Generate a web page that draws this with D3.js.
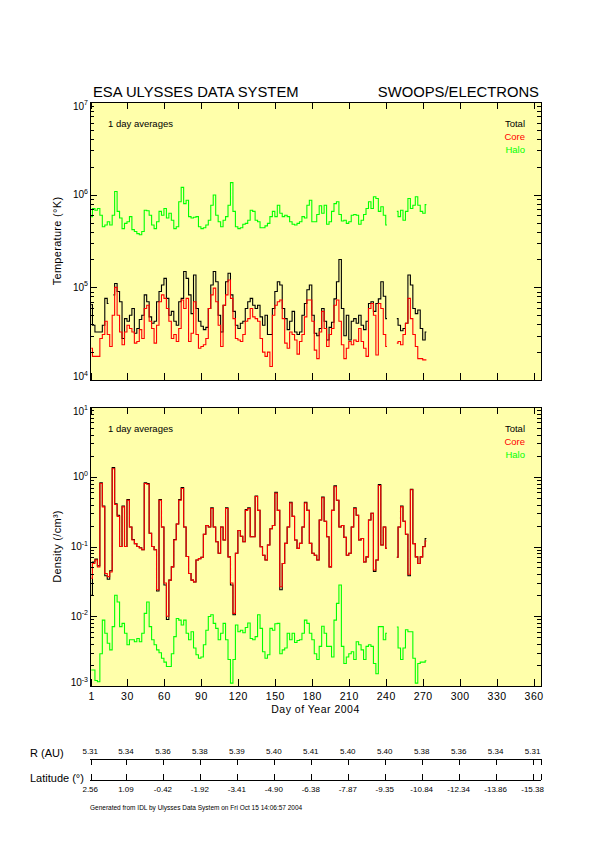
<!DOCTYPE html>
<html>
<head>
<meta charset="utf-8">
<script src="https://cdn.jsdelivr.net/npm/d3@7"></script>
<style>
body { margin: 0; background: #fff; }
svg text { font-family: "Liberation Sans", Arial, Helvetica, sans-serif; }
</style>
</head>
<body>
<svg id="chart" width="595" height="842"></svg>
<script>
// day of year (1 day averages, read every 2nd day off the plot)
var days = [
	1,3,5,7,9,11,13,15,17,19,
	21,23,25,27,29,31,33,35,37,39,
	41,43,45,47,49,51,53,55,57,59,
	61,63,65,67,69,71,73,75,77,79,
	81,83,85,87,89,91,93,95,97,99,
	101,103,105,107,109,111,113,115,117,119,
	121,123,125,127,129,131,133,135,137,139,
	141,143,145,147,149,151,153,155,157,159,
	161,163,165,167,169,171,173,175,177,179,
	181,183,185,187,189,191,193,195,197,199,
	201,203,205,207,209,211,213,215,217,219,
	221,223,225,227,229,231,233,235,237,239,
	241,243,245,247,249,251,253,255,257,259,
	261,263,265,267,269,271,273
];

// electron temperature (K)
var tempTotal = [
	6.5e4,3.9e4,3.3e4,3.3e4,3.3e4,3.9e4,7.6e4,6.7e4,null,8.3e4,
	1.1e5,9.0e4,7.0e4,2.8e4,4.6e4,4.3e4,5.0e4,5.9e4,3.2e4,3.6e4,
	4.5e4,5.0e4,8.3e4,7.0e4,4.8e4,4.1e4,4.3e4,7.0e4,9.0e4,1.06e5,
	1.25e5,7.6e4,5.0e4,5.5e4,4.3e4,3.9e4,7.0e4,7.6e4,1.48e5,1.25e5,
	8.3e4,5.2e4,1.36e5,5.9e4,4.3e4,3.8e4,3.5e4,3.7e4,5.9e4,1.06e5,
	1.48e5,1.15e5,5.0e4,3.3e4,6.4e4,1.15e5,1.42e5,8.3e4,5.5e4,3.9e4,
	3.6e4,4.1e4,4.3e4,5.9e4,7.0e4,7.6e4,6.4e4,5.9e4,6.4e4,4.8e4,
	3.9e4,5.0e4,3.1e4,3.1e4,5.9e4,9.0e4,1.15e5,1.06e5,5.9e4,4.6e4,
	3.5e4,4.3e4,5.5e4,3.3e4,3.1e4,3.3e4,5.0e4,6.7e4,9.4e4,1.06e5,
	5.0e4,3.2e4,3.0e4,3.6e4,5.9e4,4.3e4,2.7e4,3.7e4,4.2e4,7.5e4,
	1.15e5,2.0e5,5.9e4,3.0e4,5.0e4,2.7e4,4.3e4,4.6e4,4.1e4,5.0e4,
	3.9e4,3.5e4,4.3e4,6.7e4,7.0e4,5.5e4,6.7e4,7.5e4,1.15e5,8.0e4,
	4.6e4,null,null,null,4.6e4,3.9e4,3.4e4,3.6e4,4.1e4,1.36e5,
	1.06e5,5.9e4,5.2e4,5.7e4,3.6e4,2.7e4,3.3e4
];
var tempCore = [
	2.2e4,1.8e4,1.8e4,1.8e4,2.8e4,3.1e4,4.3e4,3.1e4,2.3e4,5.0e4,
	1.0e5,5.0e4,3.3e4,2.4e4,3.3e4,3.9e4,3.6e4,3.3e4,2.5e4,2.6e4,
	3.5e4,2.8e4,5.9e4,6.4e4,4.3e4,3.6e4,2.5e4,3.9e4,7.0e4,8.3e4,
	7.6e4,5.9e4,4.3e4,2.8e4,3.1e4,2.6e4,3.6e4,7.3e4,5.9e4,7.6e4,
	2.6e4,3.2e4,7.0e4,3.1e4,2.2e4,2.3e4,2.4e4,2.8e4,5.9e4,8.3e4,
	9.8e4,7.0e4,3.9e4,2.3e4,6.4e4,8.3e4,1.2e5,7.6e4,4.6e4,2.8e4,
	2.7e4,2.6e4,3.1e4,4.3e4,4.6e4,5.9e4,4.8e4,4.6e4,4.3e4,2.8e4,
	2.0e4,1.8e4,2.0e4,1.4e4,5.0e4,6.4e4,7.0e4,7.3e4,4.6e4,2.5e4,
	2.2e4,3.3e4,3.1e4,2.7e4,1.9e4,2.6e4,3.1e4,4.8e4,7.3e4,7.3e4,
	4.3e4,2.1e4,1.7e4,3.3e4,5.5e4,3.6e4,2.3e4,3.1e4,3.6e4,6.4e4,
	7.3e4,4.3e4,2.4e4,1.7e4,2.2e4,2.6e4,2.4e4,2.7e4,2.6e4,3.6e4,
	2.6e4,2.2e4,1.8e4,5.9e4,6.7e4,5.0e4,1.86e4,6.7e4,5.9e4,3.1e4,
	2.3e4,null,null,null,2.5e4,2.6e4,2.4e4,3.1e4,4.1e4,7.6e4,
	4.6e4,3.1e4,2.3e4,1.7e4,1.7e4,1.65e4,1.65e4
];
var tempHalo = [
	5.8e5,7.1e5,6.8e5,7.1e5,6.0e5,4.5e5,4.7e5,5.1e5,4.7e5,6.0e5,
	1.08e6,6.6e5,5.6e5,4.3e5,4.9e5,5.1e5,5.8e5,4.2e5,4.0e5,3.8e5,
	3.7e5,4.0e5,6.8e5,6.7e5,6.0e5,4.7e5,4.3e5,5.1e5,6.6e5,6.0e5,
	7.1e5,5.6e5,6.3e5,5.3e5,4.3e5,4.5e5,8.4e5,1.2e6,8.0e5,8.7e5,
	5.8e5,5.6e5,5.7e5,5.8e5,4.5e5,4.3e5,4.4e5,4.7e5,5.3e5,7.7e5,
	9.9e5,6.0e5,5.1e5,4.5e5,5.3e5,5.8e5,7.7e5,1.35e6,6.6e5,4.5e5,
	4.3e5,4.4e5,4.8e5,4.9e5,5.3e5,6.8e5,6.6e5,5.3e5,5.1e5,4.4e5,
	4.4e5,4.6e5,4.9e5,5.8e5,6.6e5,5.8e5,7.7e5,6.3e5,5.8e5,6.0e5,
	5.8e5,5.1e5,4.8e5,4.7e5,4.9e5,5.1e5,5.8e5,5.6e5,7.7e5,8.7e5,
	5.1e5,5.1e5,6.1e5,7.6e5,6.3e5,7.7e5,4.8e5,5.1e5,6.6e5,8.0e5,
	8.4e5,6.1e5,5.2e5,5.3e5,4.9e5,5.1e5,6.0e5,6.1e5,6.0e5,4.8e5,
	5.3e5,6.1e5,7.1e5,8.4e5,7.1e5,9.5e5,9.1e5,6.6e5,7.4e5,6.0e5,
	4.7e5,null,null,null,6.6e5,5.8e5,6.8e5,5.3e5,6.6e5,9.1e5,
	7.1e5,7.7e5,9.5e5,7.7e5,6.6e5,6.3e5,7.8e5
];

// electron density (/cm3)
var densTotal = [
	0.02,0.06,0.066,0.053,0.82,0.38,0.038,0.034,0.045,1.35,
	0.41,0.28,0.1,0.38,0.1,0.47,0.19,0.126,0.11,0.1,
	0.096,0.09,0.82,0.8,0.155,0.1,0.09,0.023,0.47,0.19,
	0.028,0.009,0.033,0.051,0.126,0.21,0.47,0.7,0.19,0.072,
	0.041,0.033,0.031,0.064,0.067,0.07,0.15,0.2,0.19,0.36,
	0.19,0.117,0.08,0.19,0.124,0.36,0.071,0.028,0.0105,0.08,
	0.17,0.14,0.117,0.34,0.36,0.138,0.138,0.53,0.33,0.099,
	0.075,0.064,0.105,0.18,0.2,0.6,0.33,0.024,0.057,0.111,
	0.19,0.43,0.27,0.124,0.094,0.111,0.19,0.43,0.33,0.111,
	0.08,0.075,0.064,0.24,0.51,0.23,0.138,0.051,0.33,0.74,
	0.46,0.19,0.2,0.135,0.075,0.08,0.19,0.36,0.28,0.124,
	0.13,0.06,0.071,0.24,0.3,0.044,0.064,0.77,0.105,0.19,
	0.094,null,null,null,0.07,0.19,0.38,0.23,0.15,0.038,
	0.66,0.11,0.071,0.057,0.071,0.1,0.13
];
var densCore = [
	0.035,0.057,0.064,0.051,0.8,0.37,0.041,0.037,0.043,1.3,
	0.4,0.27,0.1,0.37,0.1,0.46,0.19,0.124,0.11,0.1,
	0.095,0.09,0.8,0.78,0.155,0.1,0.09,0.024,0.46,0.19,
	0.03,0.01,0.033,0.051,0.124,0.21,0.46,0.68,0.19,0.072,
	0.041,0.033,0.031,0.064,0.067,0.07,0.15,0.2,0.19,0.35,
	0.19,0.117,0.08,0.19,0.124,0.35,0.071,0.03,0.011,0.08,
	0.17,0.14,0.117,0.33,0.35,0.138,0.138,0.52,0.33,0.099,
	0.075,0.064,0.105,0.18,0.2,0.58,0.33,0.0265,0.057,0.111,
	0.19,0.42,0.27,0.124,0.094,0.111,0.19,0.42,0.33,0.111,
	0.08,0.075,0.064,0.24,0.5,0.23,0.138,0.051,0.33,0.72,
	0.46,0.19,0.2,0.135,0.075,0.08,0.19,0.35,0.28,0.124,
	0.13,0.06,0.071,0.24,0.3,0.046,0.064,0.75,0.105,0.19,
	0.094,null,null,null,0.07,0.19,0.37,0.23,0.15,0.04,
	0.65,0.11,0.071,0.057,0.071,0.099,0.12
];
var densHalo = [
	0.0017,0.0017,0.0012,0.00115,0.0029,0.0088,0.0057,0.0041,0.0033,0.0071,
	0.02,0.016,0.0071,0.0079,0.0057,0.0039,0.0046,0.0046,0.0043,0.0048,
	0.0043,0.0057,0.011,0.016,0.0071,0.0046,0.0039,0.0033,0.003,0.0025,
	0.0022,0.0019,0.0019,0.0029,0.0051,0.0093,0.0088,0.0075,0.0088,0.0057,
	0.0046,0.006,0.0035,0.0028,0.0025,0.0026,0.0039,0.0063,0.0099,0.0105,
	0.0079,0.0067,0.0046,0.0057,0.0079,0.0046,0.0024,0.0011,0.0024,0.0075,
	0.006,0.0063,0.0058,0.0069,0.008,0.0048,0.0046,0.0051,0.0105,0.0067,
	0.0031,0.0025,0.0028,0.0067,0.0063,0.0078,0.0079,0.0029,0.0033,0.0035,
	0.0057,0.0046,0.0057,0.0042,0.0045,0.0046,0.0057,0.0088,0.0079,0.0057,
	0.0046,0.0029,0.0024,0.0037,0.0072,0.0057,0.0037,0.0037,0.0026,0.0088,
	0.0153,0.028,0.0037,0.0021,0.0026,0.0029,0.0031,0.0024,0.0043,0.0039,
	0.0033,0.0024,0.0037,0.0039,0.0037,0.0021,0.0015,0.0071,0.0071,0.0046,
	0.0057,null,null,null,0.007,0.0035,0.0024,0.0035,0.0064,0.006,
	0.006,0.0025,0.0011,0.0021,0.0022,0.0022,0.0023
];

var dayTicks = [1,30,60,90,120,150,180,210,240,270,300,330,360];
var tempExps = [4,5,6,7];
var densExps = [-3,-2,-1,0,1];
var seriesNames = ["Total","Core","Halo"];

// heliocentric distance and latitude under the day ticks
var rLabels = ["5.31","5.34","5.36","5.38","5.39","5.40","5.41","5.40","5.40","5.38","5.36","5.34","5.31"];
var latLabels = ["2.56","1.09","-0.42","-1.92","-3.41","-4.90","-6.38","-7.87","-9.35","-10.84","-12.34","-13.86","-15.38"];

var X_LEFT = 90, X_RIGHT = 541;
var BG = "#ffffaa";
var COLORS = ["#000000","#ff0000","#00ff00"];
var FONT_SM = 9.5;

var svg = d3.select("#chart");
var x = d3.scaleLinear().domain([0, 366]).range([X_LEFT, X_RIGHT]);

function drawPanel(id, top, bottom, y, exps, values, yTitle, showXLabels)
{
	var g = svg.append("g").attr("class", "panel-" + id);

	g.append("rect")
		.attr("x", X_LEFT).attr("y", top)
		.attr("width", X_RIGHT - X_LEFT).attr("height", bottom - top)
		.style("fill", BG);

	g.append("clipPath").attr("id", "clip-" + id)
		.append("rect")
		.attr("x", X_LEFT).attr("y", top)
		.attr("width", X_RIGHT - X_LEFT).attr("height", bottom - top);

	// histogram style, like IDL psym=10
	var line = d3.line()
		.defined(function(d) { return d[1] !== null; })
		.x(function(d) { return x(d[0]); })
		.y(function(d) { return y(d[1]); })
		.curve(d3.curveStep);

	// total first, then core, then halo on top
	values.forEach(function(vals, k)
	{
		g.append("path")
			.datum(days.map(function(d, i) { return [d, vals[i]]; }))
			.attr("d", line)
			.attr("clip-path", "url(#clip-" + id + ")")
			.style("fill", "none")
			.style("stroke", COLORS[k])
			.style("stroke-width", 1.1);
	});

	var majors = exps.map(function(e) { return Math.pow(10, e); });
	var minors = [];
	for (var i = 0; i < exps.length - 1; i++) {
		for (var m = 2; m <= 9; m++) minors.push(m * majors[i]);
	}

	[
		d3.axisLeft(y).tickValues(minors).tickSize(-4).tickFormat(""),
		d3.axisLeft(y).tickValues(majors).tickSize(-7).tickFormat("")
	].forEach(function(ax) {
		g.append("g").attr("transform", "translate(" + X_LEFT + ",0)").call(ax);
	});
	[
		d3.axisRight(y).tickValues(minors).tickSize(-4).tickFormat(""),
		d3.axisRight(y).tickValues(majors).tickSize(-7).tickFormat("")
	].forEach(function(ax) {
		g.append("g").attr("transform", "translate(" + X_RIGHT + ",0)").call(ax);
	});

	g.append("g").attr("transform", "translate(0," + top + ")")
		.call(d3.axisTop(x).tickValues(dayTicks).tickSize(-7).tickFormat(""));

	var xb = g.append("g").attr("transform", "translate(0," + bottom + ")")
		.call(d3.axisBottom(x).tickValues(dayTicks).tickSize(-7).tickPadding(7)
			.tickFormat(showXLabels ? function(d) { return d; } : ""));
	xb.attr("font-family", null).attr("font-size", null);
	xb.selectAll("text").style("font-size", "10.5px").style("letter-spacing", "0.5px").style("fill", "#000");

	g.selectAll(".domain").remove();
	g.selectAll(".tick line").style("stroke", "#000").attr("shape-rendering", "crispEdges");

	g.append("rect")
		.attr("x", X_LEFT).attr("y", top)
		.attr("width", X_RIGHT - X_LEFT).attr("height", bottom - top)
		.attr("shape-rendering", "crispEdges")
		.style("fill", "none").style("stroke", "#000").style("stroke-width", 1);

	// decade labels, 10 with superscript exponent
	g.selectAll("text.ylab").data(exps).enter().append("text")
		.attr("class", "ylab")
		.attr("x", 88)
		.attr("y", function(e, i)
		{
			var yy = y(Math.pow(10, e));
			if (i === 0) return yy;
			if (i === exps.length - 1) return yy + 7.5;
			return yy + 3.5;
		})
		.attr("text-anchor", "end")
		.style("font-size", "10px")
		.each(function(e)
		{
			var t = d3.select(this);
			t.append("tspan").text("10");
			t.append("tspan").attr("dy", -4.5).style("font-size", "7px").text(e);
		});

	g.append("text")
		.attr("transform", "translate(61," + ((top + bottom) / 2) + ") rotate(-90)")
		.attr("text-anchor", "middle")
		.style("font-size", "11px")
		.style("letter-spacing", "0.3px")
		.text(yTitle);

	g.append("text")
		.attr("x", 108).attr("y", top + 24.5)
		.style("font-size", FONT_SM + "px")
		.text("1 day averages");

	g.selectAll("text.leg").data(seriesNames).enter().append("text")
		.attr("class", "leg")
		.attr("x", 525)
		.attr("y", function(d, i) { return top + 24.5 + i * 13; })
		.attr("text-anchor", "end")
		.style("font-size", FONT_SM + "px")
		.style("fill", function(d, i) { return COLORS[i]; })
		.text(function(d) { return d; });
}

var yTemp = d3.scaleLog().domain([1e4, 1e7]).range([380, 102]);
var yDens = d3.scaleLog().domain([1e-3, 1e1]).range([686, 407]);

drawPanel("temp", 102, 380, yTemp, tempExps, [tempTotal, tempCore, tempHalo], "Temperature (\u00b0K)", false);
drawPanel("dens", 407, 686, yDens, densExps, [densTotal, densCore, densHalo], "Density (/cm\u00b3)", true);

// titles
svg.append("text").attr("x", 93).attr("y", 96.5)
	.style("font-size", "14.8px").text("ESA ULYSSES DATA SYSTEM");
svg.append("text").attr("x", 539).attr("y", 96.5).attr("text-anchor", "end")
	.style("font-size", "14.8px").text("SWOOPS/ELECTRONS");

svg.append("text").attr("x", (X_LEFT + X_RIGHT) / 2).attr("y", 713)
	.attr("text-anchor", "middle")
	.style("font-size", "10.5px").style("letter-spacing", "0.5px")
	.text("Day of Year 2004");

// R and latitude strip
var R_Y = 759, LAT_Y = 780;
var stripTicks = dayTicks.concat([366]);

svg.append("line").attr("x1", x(0)).attr("x2", x(366)).attr("y1", R_Y).attr("y2", R_Y)
	.attr("shape-rendering", "crispEdges").style("stroke", "#000");
svg.append("line").attr("x1", x(0)).attr("x2", x(366)).attr("y1", LAT_Y).attr("y2", LAT_Y)
	.attr("shape-rendering", "crispEdges").style("stroke", "#000");

svg.selectAll("line.rtick").data(stripTicks).enter().append("line")
	.attr("class", "rtick")
	.attr("x1", function(d) { return x(d); }).attr("x2", function(d) { return x(d); })
	.attr("y1", R_Y).attr("y2", R_Y + 6)
	.attr("shape-rendering", "crispEdges").style("stroke", "#000");
svg.selectAll("line.ltick").data(stripTicks).enter().append("line")
	.attr("class", "ltick")
	.attr("x1", function(d) { return x(d); }).attr("x2", function(d) { return x(d); })
	.attr("y1", LAT_Y - 6).attr("y2", LAT_Y)
	.attr("shape-rendering", "crispEdges").style("stroke", "#000");

svg.selectAll("text.rlab").data(rLabels).enter().append("text")
	.attr("class", "rlab")
	.attr("x", function(d, i) { return x(dayTicks[i]) - 1; })
	.attr("y", R_Y - 5)
	.attr("text-anchor", "middle")
	.style("font-size", "8px")
	.text(function(d) { return d; });
svg.selectAll("text.llab").data(latLabels).enter().append("text")
	.attr("class", "llab")
	.attr("x", function(d, i) { return x(dayTicks[i]) - 1; })
	.attr("y", LAT_Y + 11.5)
	.attr("text-anchor", "middle")
	.style("font-size", "8px")
	.text(function(d) { return d; });

svg.append("text").attr("x", 30).attr("y", 757)
	.style("font-size", "11px").text("R (AU)");
svg.append("text").attr("x", 30).attr("y", 782)
	.style("font-size", "11px").text("Latitude (\u00b0)");

svg.append("text").attr("x", 90).attr("y", 810)
	.style("font-size", "6.5px")
	.text("Generated from IDL by Ulysses Data System on Fri Oct 15 14:06:57 2004");
</script>
</body>
</html>
